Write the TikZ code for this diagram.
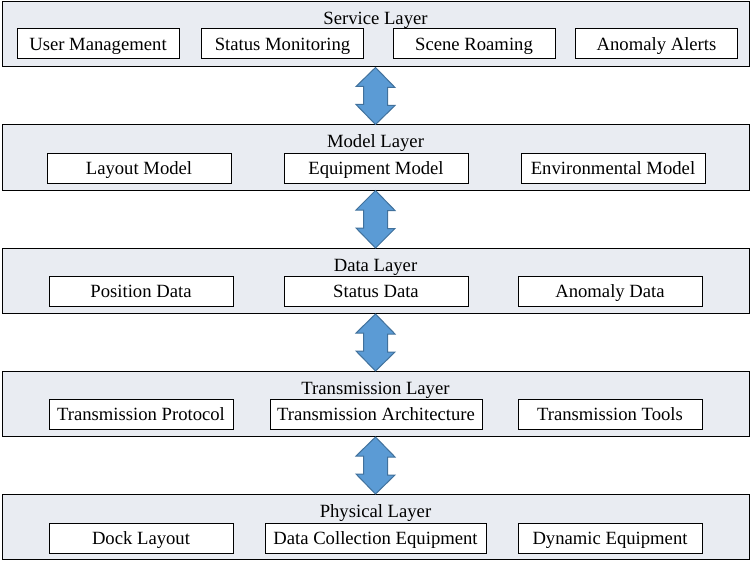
\documentclass[tikz,border=0pt]{standalone}
\usepackage{fontspec}
\setmainfont{Liberation Serif}
\usepackage{tikz}
\usepackage{xcolor}
\usetikzlibrary{calc}
\definecolor{layergray}{HTML}{E9ECF2}
\definecolor{arrowblue}{HTML}{5B9BD5}
\definecolor{arrowedge}{HTML}{41719C}

\begin{document}
\begin{tikzpicture}[x=0.75pt, y=0.75pt, every node/.style={font=\rmfamily\fontsize{14}{16}\selectfont},
  layer/.style={draw, line width=0.75pt, fill=layergray, minimum width=560.25pt, minimum height=48.75pt, inner sep=0pt},
  title/.style={inner sep=0pt, anchor=base},
  item/.style={draw, line width=0.75pt, fill=white, minimum height=22.5pt, inner sep=0pt, text height=11.5pt, text depth=2pt},
  narrow/.style={item, minimum width=121.5pt},
  wide/.style={item, minimum width=138pt},
  dblarr/.style={draw=arrowedge, fill=arrowblue, line width=0.75pt, line join=miter}]
  \useasboundingbox (0,0) rectangle (752,-563);

  % service layer
  \node[layer] (service) at (375.5,-34.5) {};
  \node[title] (servicet) at (375.5,-24.5) {Service Layer};
  \node[narrow] (user) at (98,-44) {User Management};
  \node[narrow] (status) at (282.5,-44) {Status Monitoring};
  \node[narrow] (scene) at (474,-44) {Scene Roaming};
  \node[narrow] (alerts) at (656.5,-44) {Anomaly Alerts};

  % model layer
  \node[layer] (model) at (375.5,-157.5) {};
  \node[title] (modelt) at (375.5,-147.8) {Model Layer};
  \node[wide] (layout) at (139,-168.5) {Layout Model};
  \node[wide] (equip) at (376,-168.5) {Equipment Model};
  \node[wide] (env) at (613,-168.5) {Environmental Model};

  % data layer
  \node[layer] (data) at (375.5,-281) {};
  \node[title] (datat) at (375.5,-271) {Data Layer};
  \node[wide] (posdata) at (141,-291.5) {Position Data};
  \node[wide] (statdata) at (376,-291.5) {Status Data};
  \node[wide] (anodata) at (610,-291.5) {Anomaly Data};

  % transmission layer
  \node[layer] (trans) at (375.5,-404) {};
  \node[title] (transt) at (375.5,-394) {Transmission Layer};
  \node[wide] (proto) at (141,-414.5) {Transmission Protocol};
  \node[item, minimum width=159pt] (arch) at (376,-414.5) {Transmission Architecture};
  \node[wide] (tools) at (610,-414.5) {Transmission Tools};

  % physical layer
  \node[layer] (phys) at (375.5,-527) {};
  \node[title] (physt) at (375.5,-517) {Physical Layer};
  \node[wide] (dock) at (141,-538) {Dock Layout};
  \node[item, minimum width=165.75pt] (collect) at (375.5,-538) {Data Collection Equipment};
  \node[wide] (dynamic) at (610,-538) {Dynamic Equipment};

  % double arrows between layers
  \foreach \up/\down in {service/model, model/data, data/trans, trans/phys}
    \draw[dblarr] (\up.south) -- ++(19.5,-20) -- ++(-7.5,0) -- ++(0,-18) -- ++(7.5,0)
      -- (\down.north) -- ++(-19.5,20) -- ++(7.5,0) -- ++(0,18) -- ++(-7.5,0) -- cycle;
\end{tikzpicture}
\end{document}
